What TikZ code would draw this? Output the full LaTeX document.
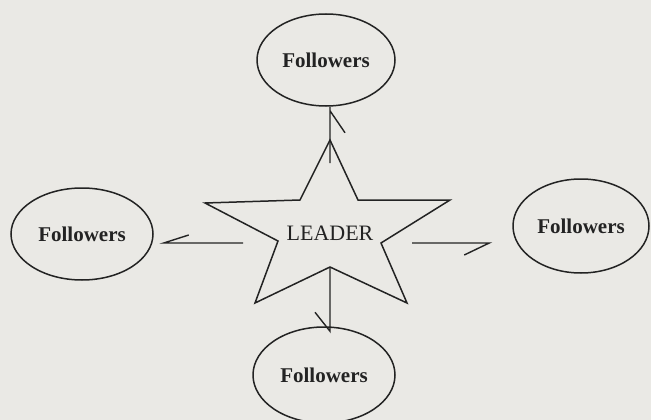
\documentclass[tikz,border=0pt]{standalone}
\usepackage{fontspec}
\setmainfont{Liberation Serif}
\usetikzlibrary{shapes.geometric}
\definecolor{bg}{RGB}{234,233,229}
\definecolor{ink}{RGB}{35,35,35}
\tikzset{
  follower/.style={ellipse, draw=ink, line width=1.5pt, inner sep=0pt,
    font=\fontsize{21}{23}\selectfont\bfseries, text=ink},
  link/.style={draw=ink, line width=1.4pt, line join=miter},
}
\begin{document}
\begin{tikzpicture}[x=1pt,y=-1pt]
\fill[bg] (0,0) rectangle (651,420);
\useasboundingbox (0,0) rectangle (651,420);
% followers
\node[follower, minimum width=138pt, minimum height=92pt] (top) at (326,60) {Followers};
\node[follower, minimum width=142pt, minimum height=92pt] (left) at (82,234) {Followers};
\node[follower, minimum width=136pt, minimum height=94pt] (right) at (581,226) {Followers};
\node[follower, minimum width=142pt, minimum height=96pt] (bottom) at (324,375) {Followers};
% star
\draw[link, line width=1.5pt] (330,140) -- (358,200) -- (450,200) -- (381,243) -- (407,303)
  -- (330,267) -- (255,303) -- (278,241) -- (205,203) -- (300,200) -- cycle;
\node[fill=bg, inner sep=1pt, text=ink, font=\fontsize{22}{24}\selectfont] (leader) at (330,233) {LEADER};
% arrow tails
\coordinate (tu) at (330,163);
\coordinate (tl) at (243,243);
\coordinate (tr) at (412,243);
\coordinate (td) at (330,268);
% arrows with single barbs
\draw[link] (tu) -- (tu |- top.south) ++(0,4) coordinate (hu) -- ++(15,22);
\draw[link] (tl) -- ([xshift=10pt]left.east |- tl) coordinate (hl) -- ++(25,-8);
\draw[link] (tr) -- ([xshift=-23pt]right.west |- tr) coordinate (hr) -- ++(-25,12);
\draw[link] (td) -- ([yshift=-5pt]td |- bottom.north) coordinate (hd) -- ++(-15,-19);
\end{tikzpicture}
\end{document}
